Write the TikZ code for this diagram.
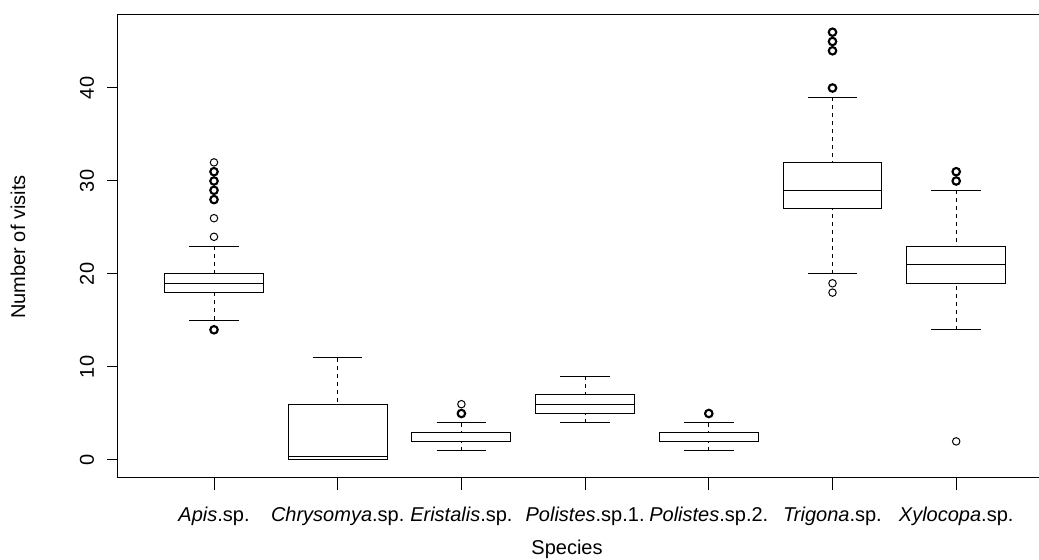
\documentclass[tikz,border=0pt]{standalone}
\usepackage{fontspec}
\setmainfont{Liberation Sans}
\usepackage{tikz}

\tikzset{
  whisker/.style={dash pattern=on 3pt off 3pt},
  single/.style={line width=0.75pt},
  multi/.style={line width=1.6pt},
  ticklab/.style={inner sep=0pt, font=\fontsize{15}{18}\selectfont},
}

% one box: position, lower whisker, Q1, median, Q3, upper whisker
\newcommand{\bxp}[6]{%
  \draw[whisker] (#1,#2) -- (#1,#3);
  \draw[whisker] (#1,#6) -- (#1,#5);
  \draw (#1-0.2,#2) -- (#1+0.2,#2);
  \draw (#1-0.2,#6) -- (#1+0.2,#6);
  \draw (#1-0.4,#3) rectangle (#1+0.4,#5);
  \draw (#1-0.4,#4) -- (#1+0.4,#4);
}

\begin{document}
\begin{tikzpicture}[x=0.75pt, y=0.75pt, line width=0.75pt]
  \useasboundingbox (0,0) rectangle (1039,560);

  % frame (right side falls outside the picture)
  \draw (1039,545) -- (117,545) -- (117,82) -- (1039,82);

  % y axis
  \foreach \v in {0,10,20,30,40} {
    \draw (107,{100+9.3*\v}) -- (117,{100+9.3*\v});
    \node[ticklab, rotate=90] (ylab\v) at (87,{100+9.3*\v}) {\v};
  }
  \node[ticklab, rotate=90] (ytitle) at (18,313) {Number of visits};

  % x axis
  \foreach \i/\name in {1/\textit{Apis}.sp., 2/\textit{Chrysomya}.sp., 3/\textit{Eristalis}.sp.,
      4/\textit{Polistes}.sp.1., 5/\textit{Polistes}.sp.2., 6/\textit{Trigona}.sp., 7/\textit{Xylocopa}.sp.} {
    \draw ({90.3+123.7*\i},82) -- ({90.3+123.7*\i},70);
    \node[ticklab] (xlab\i) at ({90.3+123.7*\i},44) {\name};
  }
  \node[ticklab] (xtitle) at (567,11) {Species};

  \begin{scope}[shift={(90.3,100)}, x={(92.775pt,0)}, y={(0,6.975pt)}]
    \bxp{1}{15}{18}{19}{20}{23}
    \bxp{2}{0}{0}{0.4}{6}{11}
    \bxp{3}{1}{2}{2}{3}{4}
    \bxp{4}{4}{5}{6}{7}{9}
    \bxp{5}{1}{2}{2}{3}{4}
    \bxp{6}{20}{27}{29}{32}{39}
    \bxp{7}{14}{19}{21}{23}{29}

    % outliers
    \foreach \i/\v in {1/32, 1/26, 1/24, 3/6, 6/19, 6/18, 7/2}
      \draw[single] (\i,\v) circle[radius=2.8pt];
    \foreach \i/\v in {1/31, 1/30, 1/29, 1/28, 1/14, 3/5, 5/5,
        6/46, 6/45, 6/44, 6/40, 7/31, 7/30}
      \draw[multi] (\i,\v) circle[radius=2.8pt];
  \end{scope}
\end{tikzpicture}
\end{document}
